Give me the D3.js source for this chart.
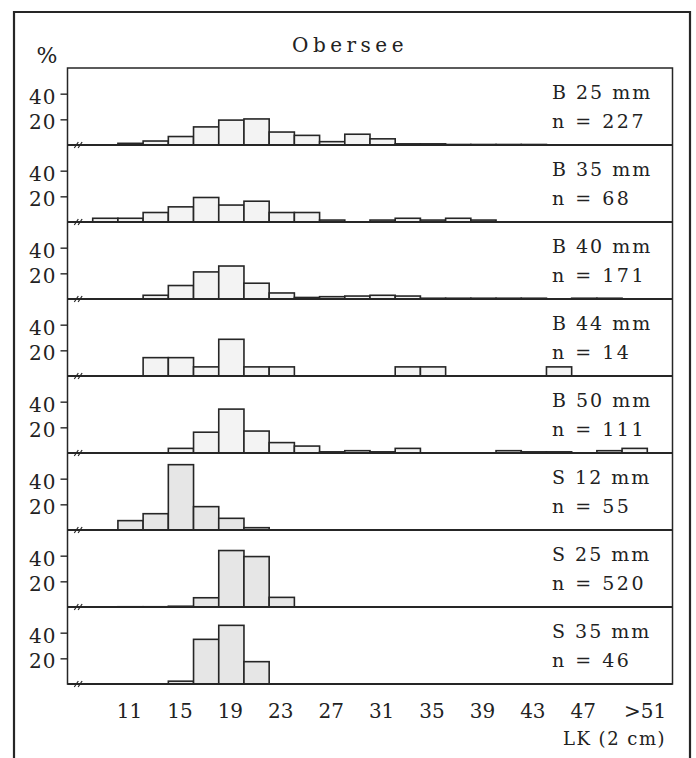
<!DOCTYPE html>
<html>
<head>
<meta charset="utf-8">
<script src="https://cdn.jsdelivr.net/npm/d3@7"></script>
<style>
  body { margin: 0; background: #fff; }
  svg text { font-family: "DejaVu Serif", serif; fill: #222; }
</style>
</head>
<body>
<div id="chart"></div>
<script>
// length classes (2 cm), last one is open ended
var classes = ["7", "9", "11", "13", "15", "17", "19", "21", "23", "25", "27", "29",
  "31", "33", "35", "37", "39", "41", "43", "45", "47", "49", ">51"];
var tickLabels = ["11", "15", "19", "23", "27", "31", "35", "39", "43", "47", ">51"];
var yTicks = [20, 40];

var panelNames = ["B 25 mm", "B 35 mm", "B 40 mm", "B 44 mm", "B 50 mm", "S 12 mm", "S 25 mm", "S 35 mm"];
var panelN = [227, 68, 171, 14, 111, 55, 520, 46];

// percent per class, same order as classes
var b25 = [0, 0, 1.3, 3.1, 6.6, 14.1, 19.4, 20.3, 10.1, 7.5, 2.6, 8.4, 4.8, 0.9, 0.9, 0.4, 0.4, 0.4, 0.4, 0, 0, 0, 0];
var b35 = [0, 2.9, 2.9, 7.4, 11.8, 19.1, 13.2, 16.2, 7.4, 7.4, 1.5, 0, 1.5, 2.9, 1.5, 2.9, 1.5, 0, 0, 0, 0, 0, 0];
var b40 = [0, 0, 0, 2.9, 10.5, 21.1, 25.7, 12.3, 4.7, 1.2, 1.8, 2.3, 2.9, 2.3, 0.6, 0.6, 0.6, 0.6, 0.6, 0, 0.6, 0.6, 0];
var b44 = [0, 0, 0, 14.3, 14.3, 7.1, 28.6, 7.1, 7.1, 0, 0, 0, 0, 7.1, 7.1, 0, 0, 0, 0, 7.1, 0, 0, 0];
var b50 = [0, 0, 0, 0, 3.6, 16.2, 34.2, 17.1, 8.1, 5.4, 0.9, 1.8, 0.9, 3.6, 0, 0, 0, 1.8, 0.9, 0.9, 0, 1.8, 3.6];
var s12 = [0, 0, 7.3, 12.7, 50.9, 18.2, 9.1, 1.8, 0, 0, 0, 0, 0, 0, 0, 0, 0, 0, 0, 0, 0, 0, 0];
var s25 = [0, 0, 0.2, 0.2, 0.6, 7.2, 44.0, 39.3, 7.5, 0, 0, 0, 0, 0, 0, 0, 0, 0, 0, 0, 0, 0, 0];
var s35 = [0, 0, 0, 0, 2.2, 34.8, 45.7, 17.4, 0, 0, 0, 0, 0, 0, 0, 0, 0, 0, 0, 0, 0, 0, 0];

var series = [b25, b35, b40, b44, b50, s12, s25, s35];

var width = 696,
  height = 758,
  plotLeft = 67.5,
  plotRight = 672.5,
  plotTop = 68,
  panelH = 77,
  ink = "#262626";

var svg = d3.select("#chart").append("svg")
  .attr("width", width)
  .attr("height", height);

// outer frame, open at the bottom
svg.append("path")
  .attr("d", "M14," + height + "V12H690V" + height)
  .attr("fill", "none")
  .attr("stroke", ink)
  .attr("stroke-width", 2.2);

var x = d3.scaleLinear()
  .domain([0, classes.length + 1])
  .range([plotLeft, plotRight]);

var y = d3.scaleLinear()
  .domain([0, 60])
  .range([panelH, 0]);

series.forEach(function(values, i) {
  var g = svg.append("g")
    .attr("transform", "translate(0," + (plotTop + i * panelH) + ")");
  var fill = panelNames[i].charAt(0) == "S" ? "#e6e6e6" : "#f3f3f3";

  g.selectAll("rect.bar")
    .data(values.map(function(v, j) { return {v: v, j: j}; })
      .filter(function(d) { return d.v > 0; }))
    .enter().append("rect")
    .attr("class", "bar")
    .attr("x", function(d) { return x(d.j); })
    .attr("width", function(d) { return x(d.j + 1) - x(d.j); })
    .attr("y", function(d) { return y(d.v); })
    .attr("height", function(d) { return panelH - y(d.v); })
    .attr("fill", fill)
    .attr("stroke", ink)
    .attr("stroke-width", 1.6);

  // baseline / divider
  g.append("line")
    .attr("x1", plotLeft).attr("x2", plotRight)
    .attr("y1", panelH).attr("y2", panelH)
    .attr("stroke", ink)
    .attr("stroke-width", 2);

  // axis break marks
  [x(0.35), x(0.5)].forEach(function(bx) {
    g.append("line")
      .attr("x1", bx - 2).attr("y1", panelH + 3)
      .attr("x2", bx + 2).attr("y2", panelH - 3)
      .attr("stroke", ink)
      .attr("stroke-width", 1.2);
  });

  var axis = g.append("g")
    .attr("transform", "translate(" + plotLeft + ",0)")
    .call(d3.axisLeft(y).tickValues(yTicks).tickSize(7).tickPadding(4));
  axis.select(".domain").remove();
  axis.selectAll("line").attr("stroke", ink).attr("stroke-width", 1.4);
  axis.selectAll("text")
    .attr("font-family", "DejaVu Serif")
    .attr("font-size", 20)
    .attr("letter-spacing", 1)
    .attr("dy", "0.48em")
    .attr("fill", ink);

  g.append("text")
    .attr("x", 552)
    .attr("y", 31)
    .attr("font-size", 19)
    .attr("letter-spacing", 2)
    .style("white-space", "pre")
    .text(panelNames[i]);

  g.append("text")
    .attr("x", 552)
    .attr("y", 60)
    .attr("font-size", 19)
    .attr("letter-spacing", 2.5)
    .style("white-space", "pre")
    .text("n = " + panelN[i]);
});

// inner box
svg.append("rect")
  .attr("x", plotLeft)
  .attr("y", plotTop)
  .attr("width", plotRight - plotLeft)
  .attr("height", panelH * series.length)
  .attr("fill", "none")
  .attr("stroke", ink)
  .attr("stroke-width", 1.5);

// x labels
svg.selectAll("text.xlab")
  .data(tickLabels)
  .enter().append("text")
  .attr("class", "xlab")
  .attr("x", function(d) {
    var j = classes.indexOf(d);
    return d.charAt(0) == ">" ? x(j) + 2 : x(j + 0.5) - 1;
  })
  .attr("y", 718)
  .attr("text-anchor", function(d) { return d.charAt(0) == ">" ? "start" : "middle"; })
  .attr("font-size", 20)
  .text(function(d) { return d; });

svg.append("text")
  .attr("x", 666)
  .attr("y", 745)
  .attr("text-anchor", "end")
  .attr("font-size", 18)
  .attr("letter-spacing", 1.5)
  .style("white-space", "pre")
  .text("LK (2 cm)");

svg.append("text")
  .attr("x", 350)
  .attr("y", 52)
  .attr("text-anchor", "middle")
  .attr("font-size", 20)
  .attr("letter-spacing", 4.5)
  .text("Obersee");

svg.append("text")
  .attr("x", 47)
  .attr("y", 63)
  .attr("text-anchor", "middle")
  .attr("font-size", 22)
  .text("%");
</script>
</body>
</html>
